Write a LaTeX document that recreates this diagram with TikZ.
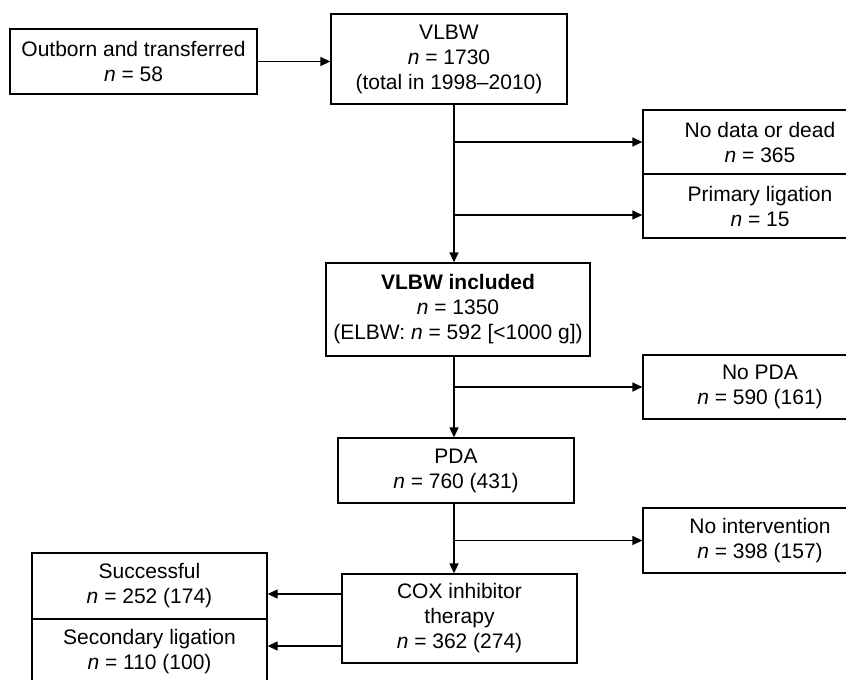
\documentclass[tikz,border=0pt]{standalone}
\usepackage{fontspec}
\setmainfont{Liberation Sans}
\usetikzlibrary{arrows.meta}

\newcommand{\nn}{\textit{n}}

\begin{document}
\begin{tikzpicture}
	[x=1pt,y=-1pt,every node/.style={draw, line width=1.3pt, align=center, inner sep=0pt, font=\fontsize{21}{25}\selectfont}]
	\tikzstyle{edges} = [line width=1.3pt, -{Triangle[length=10pt,width=9pt]}];
	\tikzstyle{side} = [minimum width=234pt, minimum height=64pt];
	
	\clip (0,0) rectangle (846,680);
	\coordinate (sp) at (454,0);
	
	\node[minimum width=247pt, minimum height=65pt] (out) at (133.5,61.5) {Outborn and transferred\\\nn{} = 58};
	\node[minimum width=236pt, minimum height=90pt] (vlbw) at (449,59) {VLBW\\\nn{} = 1730\\(total in 1998--2010)};
	\node[side] (dead) at (760,142) {No data or dead\\\nn{} = 365};
	\node[side] (prim) at (760,206) {Primary ligation\\\nn{} = 15};
	\node[minimum width=264pt, minimum height=93pt] (incl) at (458,309.5) {\textbf{VLBW included}\\\nn{} = 1350\\(ELBW: \nn{} = 592 [<1000 g])};
	\node[side] (nopda) at (760,387) {No PDA\\\nn{} = 590 (161)};
	\node[minimum width=236pt, minimum height=65pt] (pda) at (456,470.5) {PDA\\\nn{} = 760 (431)};
	\node[side, minimum height=65pt] (noint) at (760,540.5) {No intervention\\\nn{} = 398 (157)};
	\node[minimum width=235pt, minimum height=89pt] (cox) at (459.5,618.5) {COX inhibitor\\therapy\\\nn{} = 362 (274)};
	\node[minimum width=235pt, minimum height=66pt] (succ) at (149.5,586) {Successful\\\nn{} = 252 (174)};
	\node[minimum width=235pt, minimum height=66pt] (sec) at (149.5,652) {Secondary ligation\\\nn{} = 110 (100)};
	
	\coordinate (p1) at ([yshift=-9pt]prim.west);
	\coordinate (c1) at ([yshift=24.5pt]cox.west);
	\coordinate (c2) at ([yshift=-27.5pt]cox.west);
	
	\draw[edges] (out.east) -- (out.east -| vlbw.west);
	\draw[edges] (vlbw.south -| sp) -- (incl.north -| sp);
	\draw[edges] (sp |- dead.west) -- (dead.west);
	\draw[edges] (sp |- p1) -- (p1);
	\draw[edges] (incl.south -| sp) -- (pda.north -| sp);
	\draw[edges] (sp |- nopda.west) -- (nopda.west);
	\draw[edges] (pda.south -| sp) -- (cox.north -| sp);
	\draw[edges] (sp |- noint.west) -- (noint.west);
	\draw[edges] (c1) -- (c1 -| succ.east);
	\draw[edges] (c2) -- (c2 -| sec.east);
\end{tikzpicture}
\end{document}
